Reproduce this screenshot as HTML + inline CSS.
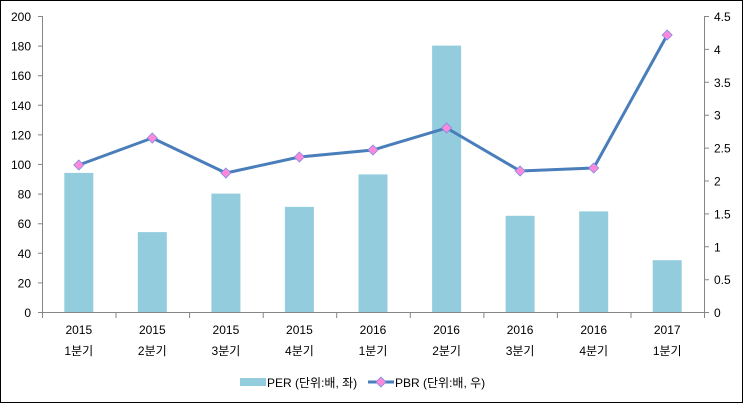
<!DOCTYPE html><html><head><meta charset="utf-8"><style>body{margin:0}svg{display:block}text{font-family:"Liberation Sans","Noto Sans CJK KR",sans-serif;font-size:12px;fill:#000}</style></head><body>
<svg width="743" height="403" xmlns="http://www.w3.org/2000/svg">
<rect x="0.5" y="0.5" width="742" height="402" fill="#fff" stroke="#000"/>
<g fill="#93CDDD">
<rect x="64.3" y="172.9" width="29" height="139.1"/>
<rect x="137.8" y="232.1" width="29" height="79.9"/>
<rect x="211.4" y="193.6" width="29" height="118.4"/>
<rect x="284.9" y="206.9" width="29" height="105.1"/>
<rect x="358.5" y="174.4" width="29" height="137.6"/>
<rect x="432.1" y="45.6" width="29" height="266.4"/>
<rect x="505.6" y="215.8" width="29" height="96.2"/>
<rect x="579.2" y="211.4" width="29" height="100.6"/>
<rect x="652.7" y="260.2" width="29" height="51.8"/>
</g>
<g stroke="#868686" stroke-width="1" fill="none">
<path d="M42.5 16V312.5H704.5V16"/>
<path d="M38 16.5h4.5M38 46.1h4.5M38 75.7h4.5M38 105.3h4.5M38 134.9h4.5M38 164.5h4.5M38 194.1h4.5M38 223.7h4.5M38 253.3h4.5M38 282.9h4.5M38 312.5h4.5"/>
<path d="M704.5 16.5h4.5M704.5 49.4h4.5M704.5 82.3h4.5M704.5 115.2h4.5M704.5 148.1h4.5M704.5 181h4.5M704.5 213.9h4.5M704.5 246.8h4.5M704.5 279.7h4.5M704.5 312.5h4.5"/>
<path d="M42.5 312v6M116 312v6M189.6 312v6M263.2 312v6M336.7 312v6M410.3 312v6M483.9 312v6M557.4 312v6M631 312v6M704.5 312v6"/>
</g>
<g text-anchor="end">
<text x="31" y="21">200</text><text x="31" y="50.6">180</text><text x="31" y="80.2">160</text><text x="31" y="109.8">140</text><text x="31" y="139.4">120</text><text x="31" y="169">100</text><text x="31" y="198.6">80</text><text x="31" y="228.2">60</text><text x="31" y="257.8">40</text><text x="31" y="287.4">20</text><text x="31" y="317">0</text>
</g>
<g>
<text x="714" y="21">4.5</text><text x="714" y="53.9">4</text><text x="714" y="86.8">3.5</text><text x="714" y="119.7">3</text><text x="714" y="152.6">2.5</text><text x="714" y="185.5">2</text><text x="714" y="218.4">1.5</text><text x="714" y="251.3">1</text><text x="714" y="284.2">0.5</text><text x="714" y="317">0</text>
</g>
<g text-anchor="middle">
<text x="78.8" y="334">2015</text><text x="78.8" y="355">1분기</text>
<text x="152.3" y="334">2015</text><text x="152.3" y="355">2분기</text>
<text x="225.9" y="334">2015</text><text x="225.9" y="355">3분기</text>
<text x="299.4" y="334">2015</text><text x="299.4" y="355">4분기</text>
<text x="373" y="334">2016</text><text x="373" y="355">1분기</text>
<text x="446.6" y="334">2016</text><text x="446.6" y="355">2분기</text>
<text x="520.1" y="334">2016</text><text x="520.1" y="355">3분기</text>
<text x="593.7" y="334">2016</text><text x="593.7" y="355">4분기</text>
<text x="667.2" y="334">2017</text><text x="667.2" y="355">1분기</text>
</g>
<polyline points="78.8,165 152.3,138 225.9,173 299.4,157 373,150 446.6,128 520.1,171 593.7,168 667.2,35" fill="none" stroke="#4A7EBB" stroke-width="3" stroke-linejoin="round"/>
<g fill="#FF88DD" stroke="#7A8CE0" stroke-width="0.8">
<path d="M78.8 160l5 5-5 5-5-5z"/><path d="M152.3 133l5 5-5 5-5-5z"/><path d="M225.9 168l5 5-5 5-5-5z"/><path d="M299.4 152l5 5-5 5-5-5z"/><path d="M373 145l5 5-5 5-5-5z"/><path d="M446.6 123l5 5-5 5-5-5z"/><path d="M520.1 166l5 5-5 5-5-5z"/><path d="M593.7 163l5 5-5 5-5-5z"/><path d="M667.2 30l5 5-5 5-5-5z"/>
</g>
<rect x="240" y="378" width="26" height="8" fill="#93CDDD"/>
<text x="267" y="387">PER (단위:배, 좌)</text>
<line x1="368" y1="382" x2="394" y2="382" stroke="#4A7EBB" stroke-width="3"/>
<path d="M381 377l5 5-5 5-5-5z" fill="#FF88DD" stroke="#7A8CE0" stroke-width="0.8"/>
<text x="395" y="387">PBR (단위:배, 우)</text>
</svg></body></html>
